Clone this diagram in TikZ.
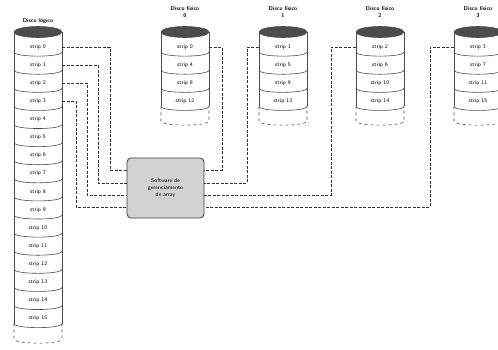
\documentclass[tikz,border=0pt]{standalone}
\usetikzlibrary{positioning}

% cilindro: #1 = centro x, #2 = numero de strips, #3 = y do fundo
\newcommand{\cilindro}[3]{%
  \pgfmathsetmacro\ultima{52+18.1*(#2-1)}
  \fill[white] (#1-24,32) -- (#1-24,#3) .. controls (#1-24,#3+5.5) and (#1+24,#3+5.5) .. (#1+24,#3) -- (#1+24,32) -- cycle;
  \draw[borda] (#1-24,32) -- (#1-24,\ultima) (#1+24,32) -- (#1+24,\ultima);
  \draw[borda,dashed] (#1-24,\ultima) -- (#1-24,#3) .. controls (#1-24,#3+5.5) and (#1+24,#3+5.5) .. (#1+24,#3) -- (#1+24,\ultima);
  \foreach \k in {1,...,#2}
    \draw[borda] (#1-24,{52+18.1*(\k-1)}) .. controls (#1-24,{57.5+18.1*(\k-1)}) and (#1+24,{57.5+18.1*(\k-1)}) .. (#1+24,{52+18.1*(\k-1)});
  \draw[borda,fill=black!70] (#1,32) ellipse (24 and 5.5);
}

\begin{document}
\begin{tikzpicture}[x=1pt,y=-1pt,
    strip/.style={font=\fontsize{5.5}{6}\selectfont\sffamily, minimum width=48pt, minimum height=12pt, inner sep=0pt},
    titulo/.style={font=\fontsize{5.5}{6.5}\selectfont\sffamily\bfseries, align=center},
    borda/.style={gray!60!black, semithick},
    link/.style={gray!40!black, thick, dash pattern=on 3pt off 1.5pt}]
	\clip (0,0) rectangle (498,350);
	\fill[white] (0,0) rectangle (498,350);

	% disco logico
	\cilindro{38}{16}{339}
	\node[titulo] (tl) at (38,21) {Disco lógico};
	\foreach \n in {0,...,15}
		\node[strip] (L\n) at (38,{47+18.1*\n}) {strip \n};

	% discos fisicos
	\foreach \d/\cx in {0/185,1/283,2/380,3/478} {
		\cilindro{\cx}{4}{121}
		\node[titulo] (t\d) at (\cx,12) {Disco físico\\\d};
		\foreach \k in {0,...,3} {
			\pgfmathtruncatemacro\s{\d+4*\k}
			\node[strip] (F\d\k) at (\cx,{47+18.1*\k}) {strip \s};
		}
	}

	\node[draw=gray!50!black, thick, fill=gray!35, rounded corners=4pt, minimum width=77pt, minimum height=60pt,
		align=center, font=\fontsize{5.5}{7}\selectfont\sffamily] (sw) at (165.5,188) {Software de\\gerenciamento\\de array};

	\draw[link] (L0.east) -| (110,170) -- (sw.west |- 110,170);
	\draw[link] (L1.east) -| (98,183) -- (sw.west |- 98,183);
	\draw[link] (L2.east) -| (87,195) -- (sw.west |- 87,195);
	\draw[link] (L3.east) -| (76,207) -- (sw.west |- 76,207);

	\draw[link] (F00.east) -| (222,170) -- (sw.east |- 222,170);
	\draw[link] (F10.west) -| (247,183) -- (sw.east |- 247,183);
	\draw[link] (F20.west) -| (331,195) -- (sw.east |- 331,195);
	\draw[link] (F30.west) -| (430,207) -- (sw.east |- 430,207);
\end{tikzpicture}
\end{document}
